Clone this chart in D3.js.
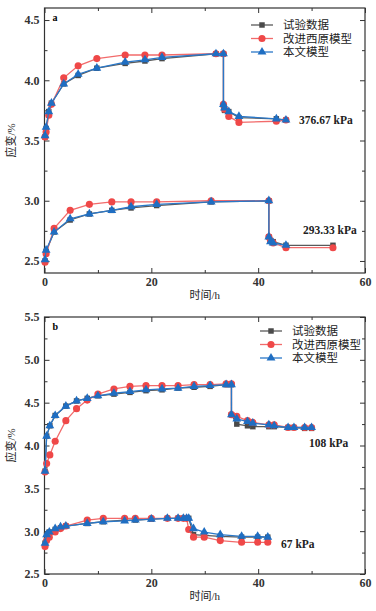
<!DOCTYPE html>
<html>
<head>
<meta charset="utf-8">
<script src="https://cdnjs.cloudflare.com/ajax/libs/d3/7.8.5/d3.min.js"></script>
<style>
body { margin: 0; background: #fff; }
text { font-family: "Liberation Serif", "Noto Sans CJK SC", serif; }
</style>
</head>
<body>
<div id="chart"></div>
<script>
// ====== data (time in h, strain in %) ======
let legendNames = ["试验数据", "改进西原模型", "本文模型"];

// panel a, 376.67 kPa
let tA1 = [0.1, 0.3, 0.8, 1.3, 3.6, 6.3, 9.8, 15.1, 18.8, 22, 32.1, 33.5, 33.5, 33.7, 34.5, 36.4, 43.4, 45.2];
let expA1 = [3.53, 3.60, 3.74, 3.81, 3.97, 4.04, 4.10, 4.14, 4.16, 4.18, 4.22, 4.22, 3.79, 3.75, 3.74, 3.69, 3.68, 3.67];
let redA1 = [3.53, 3.57, 3.71, 3.80, 4.02, 4.12, 4.18, 4.21, 4.21, 4.21, 4.22, 4.22, 3.80, 3.76, 3.70, 3.65, 3.66, 3.67];
let blueA1 = [3.54, 3.61, 3.74, 3.81, 3.97, 4.05, 4.10, 4.15, 4.17, 4.19, 4.22, 4.22, 3.80, 3.77, 3.74, 3.70, 3.68, 3.67];

// panel a, 293.33 kPa
let tA2 = [0.1, 0.3, 1.8, 4.8, 8.4, 12.6, 16.2, 21, 31.2, 42, 42, 42.3, 42.8, 45.2, 54];
let expA2 = [2.50, 2.58, 2.74, 2.84, 2.89, 2.92, 2.94, 2.96, 2.99, 3.00, 2.70, 2.67, 2.66, 2.63, 2.63];
let redA2 = [2.49, 2.56, 2.77, 2.92, 2.97, 2.99, 2.99, 2.99, 3.00, 3.00, 2.70, 2.67, 2.65, 2.61, 2.61];
let tBlueA2 = [0.1, 0.3, 1.8, 4.8, 8.4, 12.6, 16.2, 21, 31.2, 42, 42, 42.3, 42.8, 45.2];
let blueA2 = [2.51, 2.59, 2.74, 2.85, 2.89, 2.92, 2.95, 2.97, 2.99, 3.00, 2.70, 2.66, 2.65, 2.63];

// panel b, 108 kPa
let tB1 = [0.1, 0.4, 1.0, 2.0, 4.0, 6.0, 8.0, 10.0, 13, 16, 19, 22, 25, 28, 31, 34, 35, 35, 36, 38, 39, 42, 43, 45.6, 46.7, 48.7, 50];
let expB1 = [3.70, 4.11, 4.23, 4.35, 4.46, 4.52, 4.55, 4.58, 4.60, 4.62, 4.64, 4.65, 4.67, 4.68, 4.69, 4.71, 4.71, 4.36, 4.25, 4.23, 4.22, 4.22, 4.22, 4.21, 4.21, 4.20, 4.20];
let redB1 = [3.69, 3.79, 3.89, 4.05, 4.29, 4.43, 4.53, 4.60, 4.66, 4.69, 4.70, 4.70, 4.70, 4.71, 4.71, 4.72, 4.72, 4.36, 4.34, 4.29, 4.27, 4.24, 4.24, 4.21, 4.21, 4.21, 4.21];
let blueB1 = [3.70, 4.11, 4.23, 4.35, 4.46, 4.52, 4.55, 4.58, 4.61, 4.63, 4.65, 4.66, 4.67, 4.69, 4.70, 4.71, 4.71, 4.36, 4.31, 4.28, 4.26, 4.24, 4.23, 4.21, 4.21, 4.21, 4.21];

// panel b, 67 kPa
let tB2 = [0.1, 0.4, 0.9, 2, 3, 4, 8, 11, 15, 17, 20, 23, 25, 26, 26.6, 27, 27.9, 29.9, 32.9, 36.9, 39.9, 41.8];
let expB2 = [2.86, 2.96, 2.99, 3.02, 3.04, 3.06, 3.09, 3.11, 3.13, 3.13, 3.14, 3.15, 3.15, 3.15, 3.15, 3.15, 2.96, 2.95, 2.94, 2.93, 2.93, 2.93];
let redB2 = [2.82, 2.89, 2.93, 2.99, 3.03, 3.06, 3.13, 3.15, 3.15, 3.15, 3.15, 3.15, 3.15, 3.15, 3.15, 3.02, 2.93, 2.93, 2.89, 2.87, 2.87, 2.87];
let blueB2 = [2.86, 2.96, 2.99, 3.03, 3.05, 3.06, 3.09, 3.11, 3.12, 3.13, 3.14, 3.15, 3.15, 3.15, 3.15, 3.15, 3.03, 2.99, 2.96, 2.94, 2.94, 2.93];

// ticks
let xMajor = [0, 20, 40, 60];
let xMinor = [10, 30, 50];
let yMajorA = [2.5, 3.0, 3.5, 4.0, 4.5];
let yMinorA = [2.75, 3.25, 3.75, 4.25];
let yMajorB = [2.5, 3.0, 3.5, 4.0, 4.5, 5.0, 5.5];
let yMinorB = [2.75, 3.25, 3.75, 4.25, 4.75, 5.25];

let colors = ["#4a4a4a", "#ef4848", "#1f6ec2"];
let lineColors = ["#5a5a5a", "#f26b6b", "#2a78c8"];
let symbols = [d3.symbolSquare, d3.symbolCircle, d3.symbolTriangle];
let symSizes = [30, 40, 34];

let svg = d3.select("#chart").append("svg")
    .attr("width", 376)
    .attr("height", 611)

function zip(t, v) {
    return t.map(function (d, i) { return {t: d, v: v[i]}; });
}

function drawPanel(p) {
    let width = 320.5;
    let height = p.height;

    let g = svg.append("g")
        .attr("transform", "translate(" + p.left + "," + p.top + ")")

    let x = d3.scaleLinear().domain([0, 60]).range([0, width]);
    let y = d3.scaleLinear().domain(p.yDomain).range([height, 0]);

    // ====== axes, ticks inward on all four sides ======
    let fmt = d3.format(".1f");
    let axes = [
        [d3.axisBottom(x).tickValues(xMajor).tickSize(-5).tickFormat(d3.format("d")).tickPadding(4), "translate(0," + height + ")"],
        [d3.axisBottom(x).tickValues(xMinor).tickSize(-3).tickFormat(""), "translate(0," + height + ")"],
        [d3.axisTop(x).tickValues(xMajor).tickSize(-5).tickFormat(""), null],
        [d3.axisTop(x).tickValues(xMinor).tickSize(-3).tickFormat(""), null],
        [d3.axisLeft(y).tickValues(p.yMajor).tickSize(-5).tickFormat(fmt).tickPadding(5), null],
        [d3.axisLeft(y).tickValues(p.yMinor).tickSize(-3).tickFormat(""), null],
        [d3.axisRight(y).tickValues(p.yMajor).tickSize(-5).tickFormat(""), "translate(" + width + ",0)"],
        [d3.axisRight(y).tickValues(p.yMinor).tickSize(-3).tickFormat(""), "translate(" + width + ",0)"]
    ];
    axes.forEach(function (a) {
        let ax = g.append("g").call(a[0]);
        if (a[1]) ax.attr("transform", a[1]);
        ax.select(".domain").remove();
        ax.selectAll("line").attr("stroke", "#333");
        ax.selectAll("text")
            .style("font-family", "Liberation Serif")
            .style("font-size", "12px")
            .style("font-weight", "bold")
            .attr("fill", "#333");
    });

    g.append("rect")
        .attr("width", width)
        .attr("height", height)
        .attr("fill", "none")
        .attr("stroke", "#333")
        .attr("stroke-width", 1.2)

    // ====== series ======
    let line = d3.line()
        .x(function (d) { return x(d.t); })
        .y(function (d) { return y(d.v); })

    p.series.forEach(function (s) {
        s.groups.forEach(function (data) {
            g.append("path")
                .datum(data)
                .attr("d", line)
                .attr("fill", "none")
                .attr("stroke", lineColors[s.k])
                .attr("stroke-width", 1.3)

            g.selectAll(null)
                .data(data)
                .enter().append("path")
                .attr("transform", function (d) { return "translate(" + x(d.t) + "," + y(d.v) + ")"; })
                .attr("d", d3.symbol().type(symbols[s.k]).size(symSizes[s.k]))
                .attr("fill", colors[s.k])
        });
    });

    // ====== labels ======
    g.append("text")
        .attr("x", 8).attr("y", 13)
        .style("font-size", "10px").style("font-weight", "bold")
        .text(p.tag)

    g.append("text")
        .attr("transform", "translate(-30," + (height / 2) + ") rotate(-90)")
        .attr("text-anchor", "middle")
        .style("font-size", "11px")
        .attr("fill", "#222")
        .text("应变/%")

    g.append("text")
        .attr("x", width / 2).attr("y", height + 26)
        .attr("text-anchor", "middle")
        .style("font-size", "11px")
        .attr("fill", "#222")
        .text("时间/h")

    p.notes.forEach(function (n) {
        g.append("text")
            .attr("x", n[0] - p.left).attr("y", n[1] - p.top)
            .attr("dy", "0.35em")
            .style("font-size", "11.5px").style("font-weight", "bold")
            .attr("fill", "#222")
            .text(n[2])
    });

    // ====== legend ======
    let lg = g.append("g")
        .attr("transform", "translate(" + (p.legend[0] - p.left) + "," + (p.legend[1] - p.top) + ")")
    legendNames.forEach(function (name, i) {
        let row = lg.append("g").attr("transform", "translate(0," + (i * 13.5) + ")");
        row.append("line")
            .attr("x1", 0).attr("x2", 22)
            .attr("stroke", lineColors[i]).attr("stroke-width", 1.3)
        row.append("path")
            .attr("transform", "translate(11,0)")
            .attr("d", d3.symbol().type(symbols[i]).size(symSizes[i]))
            .attr("fill", colors[i])
        row.append("text")
            .attr("x", 32).attr("dy", "0.38em")
            .style("font-size", "11.5px")
            .attr("fill", "#222")
            .text(name)
    });
}

drawPanel({
    tag: "a", left: 44.5, top: 8, height: 265,
    yDomain: [2.4, 4.6], yMajor: yMajorA, yMinor: yMinorA,
    series: [
        {k: 0, groups: [zip(tA1, expA1), zip(tA2, expA2)]},
        {k: 1, groups: [zip(tA1, redA1), zip(tA2, redA2)]},
        {k: 2, groups: [zip(tA1, blueA1), zip(tBlueA2, blueA2)]}
    ],
    notes: [[299, 120, "376.67 kPa"], [303, 230, "293.33 kPa"]],
    legend: [251, 25]
});

drawPanel({
    tag: "b", left: 44.5, top: 317, height: 257,
    yDomain: [2.5, 5.5], yMajor: yMajorB, yMinor: yMinorB,
    series: [
        {k: 0, groups: [zip(tB1, expB1), zip(tB2, expB2)]},
        {k: 1, groups: [zip(tB1, redB1), zip(tB2, redB2)]},
        {k: 2, groups: [zip(tB1, blueB1), zip(tB2, blueB2)]}
    ],
    notes: [[309, 443, "108 kPa"], [281, 544, "67 kPa"]],
    legend: [260, 331]
});
</script>
</body>
</html>
